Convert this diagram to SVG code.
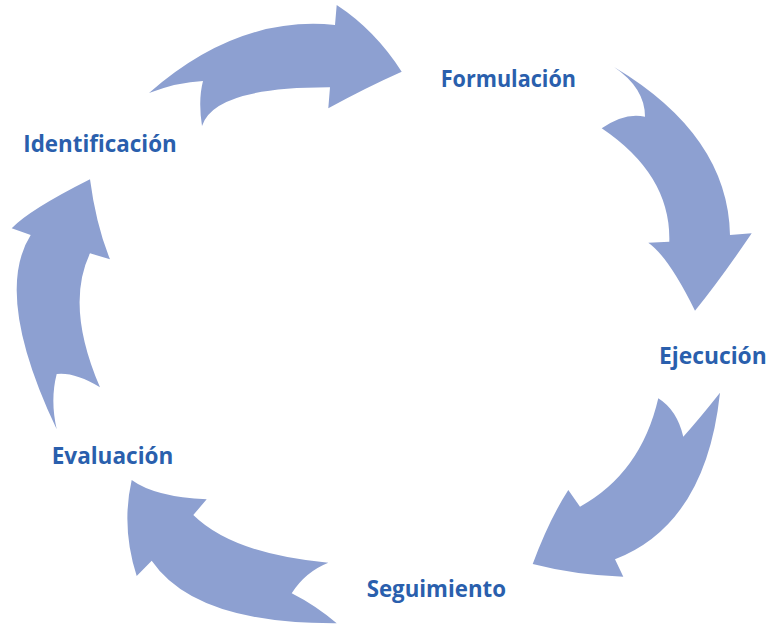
<svg xmlns="http://www.w3.org/2000/svg" width="775" height="625" viewBox="0 0 775 625">
<style>
.arrow{fill:#8da0d1;stroke:none}
.lbl{font-family:"Open Sans","Liberation Sans",sans-serif;font-weight:bold;font-size:24px;fill:#2a5fad}
</style>
<rect width="775" height="625" fill="#ffffff"/>
<g id="connectors">
<path id="arrow-ident-form" class="arrow" d="M149,93 Q238,15 335,25 L336.7,5 Q375,30 401.7,71.7 Q365,88 328.3,108.3 L330,87.3 Q214,87 202,126 Q198,100 203,81 Q178,82 149,93 Z"/>
<path id="arrow-form-ejec" class="arrow" d="M614,67 Q728,135 730,235 L751.7,233.3 Q720,280 695,310.7 Q668.4,256.7 648.3,242.7 L669.3,241.7 Q671,175 601.7,128.3 Q625,112 645,116.7 Q645,88 614,67 Z"/>
<path id="arrow-ejec-seg" class="arrow" d="M720,392.7 Q706,524 615,559.3 L623.3,576.7 Q575,575 532.7,564 Q549,520 568.3,490 L580,506.7 Q641,473 658.3,398.3 Q677,410 683.3,436.7 Q700,418 720,392.7 Z"/>
<path id="arrow-seg-eval" class="arrow" d="M131.7,480 Q155,497 206.7,499.3 L193.3,515 Q233,554 328.3,562.7 Q305,572 291.7,593.3 Q315,605 336.7,623.3 Q195,624 151.7,560.7 L136.7,576 Q121,527 131.7,480 Z"/>
<path id="arrow-eval-ident" class="arrow" d="M90,179.3 Q96,225 110,259.3 L90,253.3 Q65,306 100,387.3 Q75,372 56.7,374 Q50,400 56.7,429.3 Q-7,295 30.7,235 L11.7,228.3 Q29,210 90,179.3 Z"/>
</g>
<g id="node-formulacion"><text class="lbl" x="440.7" y="86.7" textLength="135.3" lengthAdjust="spacingAndGlyphs">Formulación</text></g>
<g id="node-identificacion"><text class="lbl" x="23.3" y="151.5" textLength="153.4" lengthAdjust="spacingAndGlyphs">Identificación</text></g>
<g id="node-ejecucion"><text class="lbl" x="659" y="364.3" textLength="107.7" lengthAdjust="spacingAndGlyphs">Ejecución</text></g>
<g id="node-seguimiento"><text class="lbl" x="366.7" y="597" textLength="139.3" lengthAdjust="spacingAndGlyphs">Seguimiento</text></g>
<g id="node-evaluacion"><text class="lbl" x="51.7" y="464.3" textLength="121.6" lengthAdjust="spacingAndGlyphs">Evaluación</text></g>
</svg>
